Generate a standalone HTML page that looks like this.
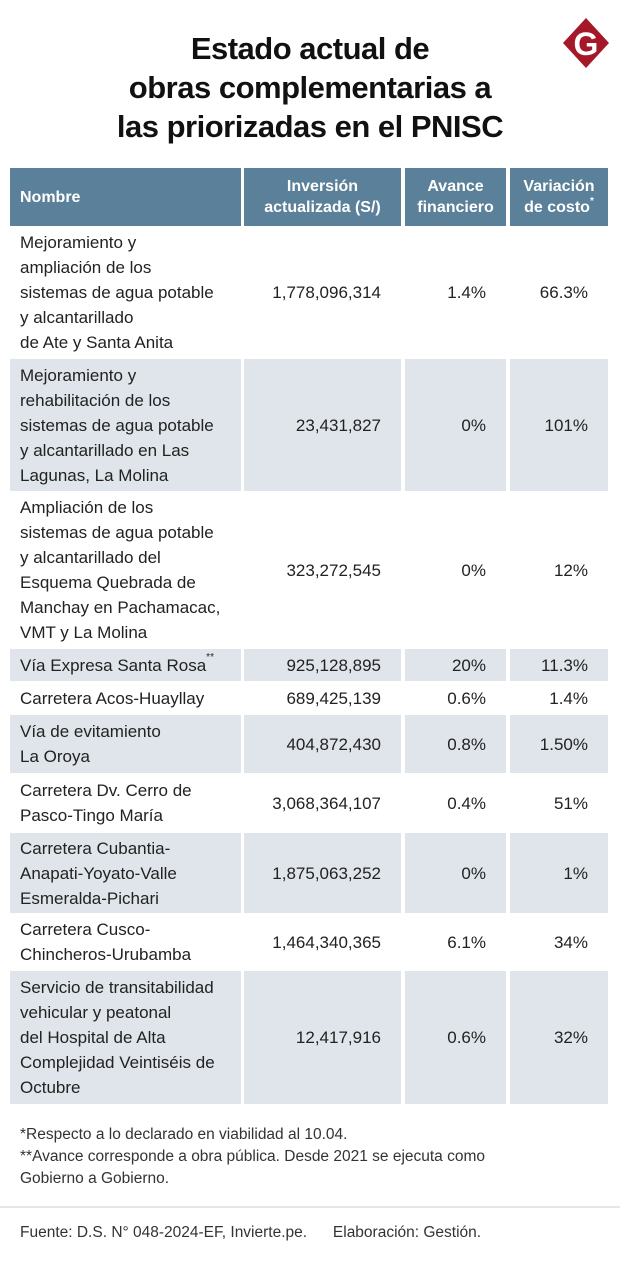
<!DOCTYPE html>
<html><head><meta charset="utf-8"><style>
body{margin:0;width:620px;height:1277px;background:#fff;position:relative;font-family:"Liberation Sans",sans-serif;color:#222;overflow:hidden}
.t{position:absolute;left:0;width:620px;text-align:center;font-weight:bold;font-size:31px;line-height:39px;top:29px;color:#111;letter-spacing:-0.5px}
.c{position:absolute;box-sizing:border-box;display:flex;align-items:center;font-size:17px;line-height:25px}
.h{background:#5b809a;color:#fff;font-weight:bold;font-size:16px;line-height:21px;justify-content:center;text-align:center}
.g{background:#dfe5ea}
.n{padding-left:10px}
.r{justify-content:flex-end;padding-right:20px}
.fn{position:absolute;left:20px;font-size:15.5px;line-height:22px;color:#333}
.ast{font-size:10px;vertical-align:top;line-height:10px}
</style></head><body>
<div class="t">Estado actual de<br>obras complementarias a<br>las priorizadas en el PNISC</div>
<svg style="position:absolute;left:562px;top:17px" width="48" height="52" viewBox="0 0 48 52"><polygon points="24,1 47,26 24,51 1,26" fill="#a4182a"/><text x="24" y="38" text-anchor="middle" font-family="Liberation Sans" font-weight="bold" font-size="32" fill="#fff">G</text></svg>
<div id="tbl"></div>
<div class="fn" style="top:1124px">*Respecto a lo declarado en viabilidad al 10.04.</div>
<div class="fn" style="top:1146px">**Avance corresponde a obra pública. Desde 2021 se ejecuta como<br>Gobierno a Gobierno.</div>
<div style="position:absolute;left:0;top:1206px;width:620px;height:2px;background:#e6e6e6"></div>
<div class="fn" style="top:1222px">Fuente: D.S. N° 048-2024-EF, Invierte.pe.&nbsp;&nbsp;&nbsp;&nbsp;&nbsp;&nbsp;Elaboración: Gestión.</div>
<script>
const names=["Mejoramiento y<br>ampliación de los<br>sistemas de agua potable<br>y alcantarillado<br>de Ate y Santa Anita","Mejoramiento y<br>rehabilitación de los<br>sistemas de agua potable<br>y alcantarillado en Las<br>Lagunas, La Molina","Ampliación de los<br>sistemas de agua potable<br>y alcantarillado del<br>Esquema Quebrada de<br>Manchay en Pachamacac,<br>VMT y La Molina","Vía Expresa Santa Rosa<span class='ast'>**</span>","Carretera Acos-Huayllay","Vía de evitamiento<br>La Oroya","Carretera Dv. Cerro de<br>Pasco-Tingo María","Carretera Cubantia-<br>Anapati-Yoyato-Valle<br>Esmeralda-Pichari","Carretera Cusco-<br>Chincheros-Urubamba","Servicio de transitabilidad<br>vehicular y peatonal<br>del Hospital de Alta<br>Complejidad Veintiséis de<br>Octubre"];
const inversion=["1,778,096,314","23,431,827","323,272,545","925,128,895","689,425,139","404,872,430","3,068,364,107","1,875,063,252","1,464,340,365","12,417,916"];
const avance=["1.4%","0%","0%","20%","0.6%","0.8%","0.4%","0%","6.1%","0.6%"];
const variacion=["66.3%","101%","12%","11.3%","1.4%","1.50%","51%","1%","34%","32%"];
const rowTop=[227,359,493,649,683,715,775,833,915,971];
const rowBot=[357,491,647,681,713,773,831,913,969,1104];
const cols=[[10,231],[244,157],[405,101],[510,98]];
const T=document.getElementById('tbl');
function cell(x,y,w,h,cls,html,name){const d=document.createElement('div');d.className='c '+cls;d.style.cssText=`left:${x}px;top:${y}px;width:${w}px;height:${h}px`;d.innerHTML=html;


T.appendChild(d);}
const heads=["Nombre","Inversión<br>actualizada (S/)","Avance<br>financiero","Variación<br>de costo<span class='ast'>*</span>"];
heads.forEach((h,i)=>cell(cols[i][0],168,cols[i][1],58,'h'+(i==0?' n':''),'<div>'+h+'</div>','header-'+i));
T.children[0].style.justifyContent='flex-start';
names.forEach((n,r)=>{const y=rowTop[r],h=rowBot[r]-rowTop[r],g=r%2?' g':'';
cell(cols[0][0],y,cols[0][1],h,'n'+g,'<div>'+n+'</div>','row-name');
cell(cols[1][0],y,cols[1][1],h,'r'+g,inversion[r],'row-inversion');
cell(cols[2][0],y,cols[2][1],h,'r'+g,avance[r],'row-avance');
cell(cols[3][0],y,cols[3][1],h,'r'+g,variacion[r],'row-variacion');});
</script>
</body></html>
